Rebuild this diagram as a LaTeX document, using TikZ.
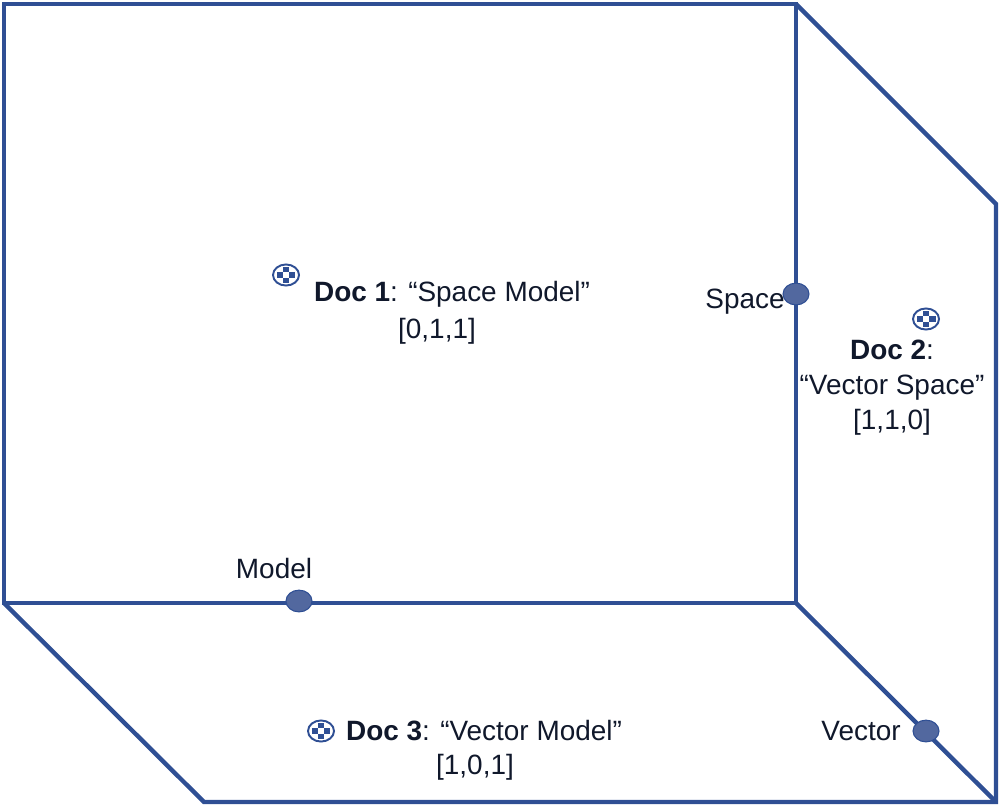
\documentclass[tikz,border=0pt]{standalone}
\usepackage{fontspec}
\setmainfont{Liberation Sans}
\usetikzlibrary{shapes.geometric}
\definecolor{edgeblue}{HTML}{2F4F94}
\definecolor{dotblue}{HTML}{52689F}
\definecolor{inkblue}{HTML}{10182B}
\tikzset{
  edgeline/.style={draw=edgeblue, line width=2.5pt, line join=miter},
  termdot/.style={ellipse, draw=edgeblue, fill=dotblue, line width=0.6pt,
    minimum width=14.8pt, minimum height=12.4pt, inner sep=0pt},
  docmark/.style={ellipse, draw=edgeblue, fill=white, line width=1.1pt,
    minimum width=14.8pt, minimum height=12pt, inner sep=0pt,
    path picture={
      \foreach \i/\j in {-1/0,1/0,0/1,0/-1} {
        \fill[edgeblue] ([xshift=\i*3.6pt-1.8pt,yshift=\j*3.2pt-1.6pt]path picture bounding box.center)
          rectangle ++(3.6pt,3.2pt);
      }
    }},
  label/.style={text=inkblue, font=\fontsize{15.9pt}{18pt}\selectfont, inner sep=0pt},
  doclabel/.style={label, align=center}
}
\begin{document}
\begin{tikzpicture}[x=0.02cm, y=-0.02cm]
    % Fix the page to the size of the reference
    \useasboundingbox (0,0) rectangle (1000,806);
    % Corners of the box
    \coordinate (backTL) at (4,4);
    \coordinate (backTR) at (796,4);
    \coordinate (backBL) at (4,603);
    \coordinate (backBR) at (796,603);
    \coordinate (sideT) at (996,204);
    \coordinate (sideB) at (996,802);
    \coordinate (floorL) at (204,802);
    % Draw the back face, the side face and the floor
    \draw[edgeline] (backTL) rectangle (backBR);
    \draw[edgeline] (backTR) -- (sideT) -- (sideB) -- (floorL) -- (backBL);
    \draw[edgeline] (backBR) -- (sideB);
    % Term dots on the three axes
    \node[termdot] (spaceDot) at (796,294) {};
    \node[termdot] (modelDot) at (299,601) {};
    \node[termdot] (vectorDot) at (926,731) {};
    % Term labels
    \node[label] (spaceLabel) at (745,302) {Space};
    \node[label] (modelLabel) at (274,568) {Model};
    \node[label] (vectorLabel) at (861,731) {Vector};
    % Document markers
    \node[docmark] (docOneMark) at (286,275) {};
    \node[docmark] (docTwoMark) at (926,319) {};
    \node[docmark] (docThreeMark) at (321,731) {};
    % Document captions
    \node[doclabel] (docOneText) at (452,294) {\textbf{Doc 1}: “Space Model”};
    \node[doclabel] (docOneVec) at (437,331) {[0,1,1]};
    \node[doclabel] (docTwoText) at (892,350) {\textbf{Doc 2}:};
    \node[doclabel] (docTwoName) at (892,388) {“Vector Space”};
    \node[doclabel] (docTwoVec) at (892,422) {[1,1,0]};
    \node[doclabel] (docThreeText) at (484,731) {\textbf{Doc 3}: “Vector Model”};
    \node[doclabel] (docThreeVec) at (475,767) {[1,0,1]};
\end{tikzpicture}
\end{document}
